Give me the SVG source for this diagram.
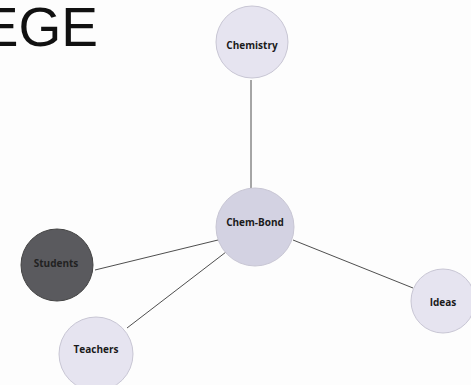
<svg xmlns="http://www.w3.org/2000/svg" width="471" height="385" viewBox="0 0 471 385">
<style>
.n{fill:#e6e4f0;stroke:#c8c6d4;stroke-width:1}
.t{font-family:"Open Sans","DejaVu Sans",sans-serif;font-size:10px;font-weight:bold;fill:#1a1a1a;text-anchor:middle}
.c line{stroke:#3a3a3a;stroke-width:0.9}
</style>
<rect width="471" height="385" fill="#fdfdfd"/>
<text x="98" y="46" font-family="Liberation Sans, Arial, sans-serif" font-size="55" fill="#111" text-anchor="end">EGE</text>
<g class="c" id="connectors">
<line x1="251" y1="80" x2="251" y2="188"/>
<line x1="95" y1="270" x2="218" y2="240"/>
<line x1="127" y1="328" x2="226" y2="252"/>
<line x1="293" y1="240" x2="413" y2="288"/>
</g>
<g id="chemistry"><circle class="n" cx="252" cy="42" r="36"/><text class="t" x="252" y="49">Chemistry</text></g>
<g id="chembond"><circle class="n" cx="255" cy="227" r="39" style="fill:#d3d2e2"/><text class="t" x="255" y="226">Chem-Bond</text></g>
<g id="students"><circle class="n" cx="57" cy="265" r="36" style="fill:#5a5a5e;stroke:#444"/><text class="t" x="56" y="267" style="fill:#222">Students</text></g>
<g id="teachers"><circle class="n" cx="96" cy="354" r="37"/><text class="t" x="96" y="353">Teachers</text></g>
<g id="ideas"><circle class="n" cx="443" cy="301" r="32"/><text class="t" x="443" y="306">Ideas</text></g>
</svg>
